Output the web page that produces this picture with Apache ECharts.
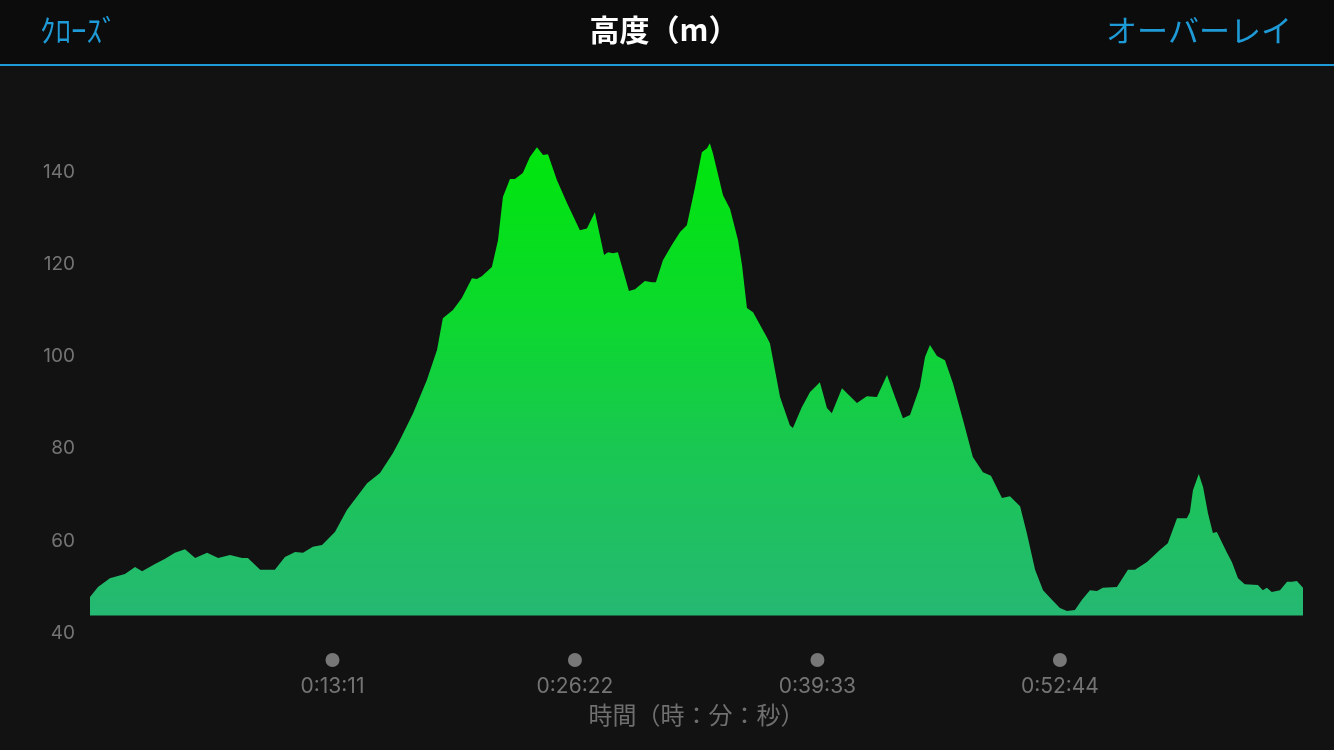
<!DOCTYPE html>
<html>
<head>
<meta charset="utf-8">
<script src="https://cdn.jsdelivr.net/npm/echarts@6/dist/echarts.min.js"></script>
<style>
  html, body { margin: 0; padding: 0; background: #121212; }
  #chart { width: 1334px; height: 750px; }
</style>
</head>
<body>
<div id="chart"></div>
<script>
// elapsed time in seconds
const times = [0,26,65,114,147,170,212,245,277,310,343,382,418,457,496,515,555,603,636,669,695,727,757,799,838,904,946,988,1011,1054,1099,1132,1151,1184,1213,1246,1262,1278,1311,1331,1347,1370,1386,1412,1435,1458,1478,1494,1523,1556,1598,1621,1647,1677,1690,1706,1722,1739,1758,1778,1810,1833,1846,1869,1898,1925,1947,1973,1996,2013,2022,2032,2065,2088,2114,2127,2143,2163,2208,2218,2251,2283,2293,2322,2349,2381,2404,2420,2453,2502,2534,2567,2600,2626,2652,2675,2707,2724,2740,2763,2789,2815,2848,2880,2913,2939,2975,3001,3034,3056,3083,3109,3138,3164,3187,3213,3236,3262,3285,3304,3350,3386,3409,3448,3490,3516,3546,3578,3588,3598,3617,3631,3647,3663,3676,3709,3725,3745,3767,3810,3826,3839,3855,3882,3905,3921,3937,3957];
// altitude in metres
const altitudes = [47.8,50.0,51.9,52.8,54.3,53.4,55.0,56.1,57.4,58.2,56.3,57.4,56.3,56.9,56.3,56.3,53.7,53.7,56.5,57.6,57.4,58.7,59.1,61.9,66.7,72.5,74.7,79.0,81.9,87.7,94.9,101.4,108.3,110.1,112.7,117.0,116.8,117.4,119.4,125.2,134.6,138.5,138.5,139.8,143.3,145.4,143.7,143.9,138.3,133.3,127.4,127.8,131.3,122.0,122.6,122.4,122.6,118.7,114.2,114.6,116.4,116.1,116.1,120.9,124.2,127.0,128.5,136.5,144.3,145.2,146.3,144.1,135.0,132.0,125.2,119.8,110.5,109.6,104.2,102.9,91.2,85.1,84.5,89.0,92.3,94.4,88.8,87.7,93.1,89.9,91.4,91.2,96.0,91.2,86.6,87.3,93.4,99.9,102.5,100.1,99.2,94.2,86.2,78.2,74.9,74.1,69.3,69.7,67.5,61.7,53.7,49.3,47.2,45.4,44.8,45.0,47.2,49.3,49.1,49.8,50.0,53.7,53.7,55.4,58.0,59.5,64.9,64.9,66.2,71.0,74.5,71.7,66.0,61.7,61.9,57.4,55.4,51.9,50.6,50.4,49.3,49.8,48.9,49.3,51.1,51.1,51.3,49.8];
// x-axis tick values (seconds) and their labels
const timeTicks = [791, 1582, 2373, 3164];
const timeTickLabels = ['0:13:11', '0:26:22', '0:39:33', '0:52:44'];
const yTickLabels = [40, 60, 80, 100, 120, 140];

const chart = echarts.init(document.getElementById('chart'), null, { renderer: 'canvas' });
const data = times.map((t, i) => [t, altitudes[i]]);
const numFont = 'Inter, "Liberation Sans", sans-serif';
const cjkFont = '"Noto Sans CJK JP", sans-serif';

chart.setOption({
  backgroundColor: '#121212',
  animation: false,
  grid: { left: 90, right: 31, top: 80, bottom: 117, containLabel: false },
  xAxis: {
    type: 'value',
    min: 0,
    max: 3957,
    interval: 791,
    axisLine: { show: false },
    axisTick: { show: false },
    splitLine: { show: false },
    name: '時間（時：分：秒）',
    nameLocation: 'middle',
    nameGap: 70,
    nameTextStyle: { color: '#6f6f6f', fontSize: 24, fontFamily: cjkFont },
    axisLabel: {
      margin: 12,
      showMinLabel: true,
      showMaxLabel: true,
      formatter: function (v) {
        const i = timeTicks.indexOf(v);
        return i >= 0 ? '{d| }\n{t|' + timeTickLabels[i] + '}' : '';
      },
      rich: {
        d: { width: 14, height: 14, lineHeight: 30, borderRadius: 7, backgroundColor: '#777777', align: 'center' },
        t: { color: '#747474', fontSize: 21, lineHeight: 24, fontFamily: numFont, align: 'center' }
      }
    }
  },
  yAxis: {
    type: 'value',
    min: 40,
    max: 160,
    interval: 20,
    axisLine: { show: false },
    axisTick: { show: false },
    splitLine: { show: false },
    axisLabel: {
      margin: 15,
      color: '#747474',
      fontSize: 19,
      fontFamily: numFont,
      formatter: function (v) { return yTickLabels.indexOf(v) >= 0 ? String(v) : ''; }
    }
  },
  series: [{
    type: 'line',
    data: data,
    symbol: 'none',
    smooth: false,
    lineStyle: { width: 0 },
    areaStyle: {
      origin: 43.8,
      opacity: 1,
      color: {
        type: 'linear', x: 0, y: 0, x2: 0, y2: 1,
        colorStops: [
          { offset: 0, color: '#00e60c' },
          { offset: 0.35, color: '#0bd92b' },
          { offset: 0.65, color: '#19c752' },
          { offset: 1, color: '#25b872' }
        ]
      }
    }
  }],
  graphic: [
    { type: 'rect', left: 0, top: 0, shape: { width: 1334, height: 64 }, style: { fill: '#0c0c0c' }, silent: true },
    { type: 'rect', left: 0, top: 64, shape: { width: 1334, height: 2 }, style: { fill: '#1e9ad6' }, silent: true },
    { type: 'text', x: 40, y: 30, style: { text: 'ｸﾛｰｽﾞ', fill: '#1e9ad6', font: '31px "Noto Sans CJK JP"', textAlign: 'left', textVerticalAlign: 'middle' } },
    { type: 'text', x: 664, y: 30, style: { text: '高度（m）', fill: '#ffffff', font: 'bold 30px "Noto Sans CJK JP"', textAlign: 'center', textVerticalAlign: 'middle' } },
    { type: 'text', x: 1292, y: 30, style: { text: 'オーバーレイ', fill: '#1e9ad6', font: '31px "Noto Sans CJK JP"', textAlign: 'right', textVerticalAlign: 'middle' } }
  ]
});
</script>
</body>
</html>
